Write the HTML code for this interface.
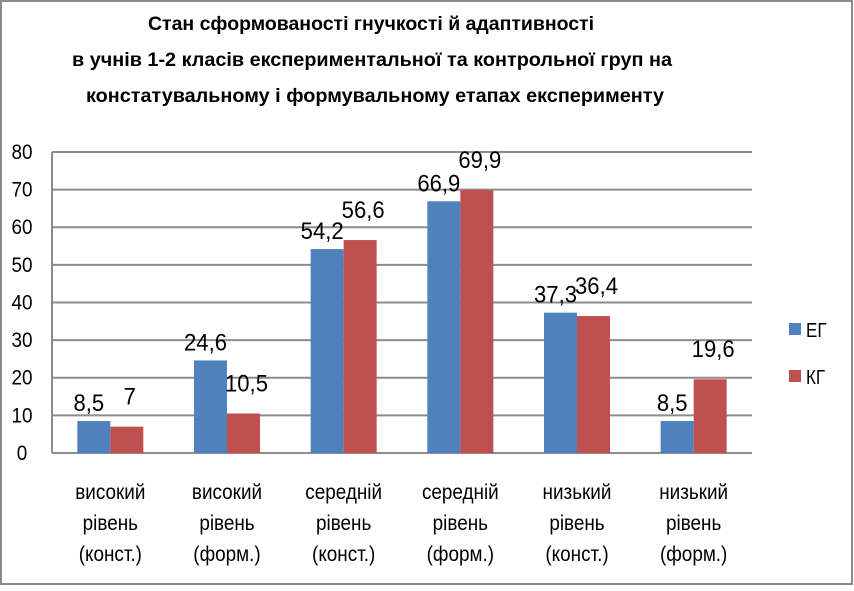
<!DOCTYPE html>
<html><head><meta charset="utf-8"><style>
body{margin:0;background:#fff;}
svg text{font-family:"Liberation Sans",sans-serif;}
</style></head><body>
<svg width="854" height="586" viewBox="0 0 854 586" xmlns="http://www.w3.org/2000/svg">
<rect x="1" y="1" width="851" height="583" fill="#fff" stroke="#8a8a8a" stroke-width="2"/>
<g font-weight="bold" font-size="19" text-anchor="middle" fill="#000">
<text x="371" y="30" textLength="446" lengthAdjust="spacingAndGlyphs">Стан  сформованості гнучкості й адаптивності</text>
<text x="372" y="66" textLength="600" lengthAdjust="spacingAndGlyphs">в учнів 1-2 класів експериментальної та контрольної груп на</text>
<text x="375" y="102" textLength="578" lengthAdjust="spacingAndGlyphs">констатувальному і формувальному етапах експерименту</text>
</g>
<g id="grid"></g>
<g id="yticks"></g>
<g id="bars"></g>
<g id="xlabels"></g>
<g>
<g><rect x="789" y="323" width="12" height="12" fill="#4f81bd"/><text x="806" y="337" font-size="20" transform="translate(806 337) scale(0.85 1) translate(-806 -337)">ЕГ</text></g>
<g><rect x="789" y="370" width="12" height="12" fill="#c0504d"/><text x="806" y="384" font-size="20" transform="translate(806 384) scale(0.85 1) translate(-806 -384)">КГ</text></g>
</g>
</svg>
<script>
const categories=[["високий","рівень","(конст.)"],["високий","рівень","(форм.)"],["середній","рівень","(конст.)"],["середній","рівень","(форм.)"],["низький","рівень","(конст.)"],["низький","рівень","(форм.)"]];
const egValues=[8.5,24.6,54.2,66.9,37.3,8.5];
const kgValues=[7,10.5,56.6,69.9,36.4,19.6];
const egLabels=["8,5","24,6","54,2","66,9","37,3","8,5"];
const kgLabels=["7","10,5","56,6","69,9","36,4","19,6"];
const yTicks=[0,10,20,30,40,50,60,70,80];
const NS="http://www.w3.org/2000/svg";
const X0=52,X1=752,Y0=453,Y80=152,yMax=80;
const y=v=>Y0-(v/yMax)*(Y0-Y80);
const gw=(X1-X0)/categories.length;
const gc=i=>X0+gw*(i+0.5);
const bw=33;
function mk(t,a,p,txt){const e=document.createElementNS(NS,t);for(const k in a)e.setAttribute(k,a[k]);if(txt!==undefined)e.textContent=txt;p.appendChild(e);return e;}
function sx(x,yy,s){return 'translate('+x+' '+yy+') scale('+s+' 1) translate('+(-x)+' '+(-yy)+')';}
const grid=document.getElementById('grid'),yt=document.getElementById('yticks'),bars=document.getElementById('bars'),xl=document.getElementById('xlabels');
yTicks.forEach(v=>{
 const l=mk('line',{x1:X0,x2:X1,y1:y(v),y2:y(v),stroke:'#8c8c8c','stroke-width':2},grid);
 
 
 const t=mk('text',{x:22,y:y(v)+7,'font-size':21,'text-anchor':'middle',transform:sx(22,y(v)+7,0.9)},yt,String(v));
 
 
});
const ax=mk('line',{x1:X0,x2:X0,y1:Y80,y2:Y0,stroke:'#8c8c8c','stroke-width':2},grid);


categories.forEach((c,i)=>{
 const cx=gc(i);
 [[egValues[i],egLabels[i],'#4f81bd',cx-bw,'eg',-10,-5],[kgValues[i],kgLabels[i],'#c0504d',cx,'kg',-22,3]].forEach(([v,lab,col,x,s,off,dx])=>{
  const r=mk('rect',{x:x,y:y(v),width:bw,height:Y0-y(v),fill:col},bars);
  
  
  const tx=x+bw/2+dx, ty=y(v)+off;
  const t=mk('text',{x:tx,y:ty,'font-size':24,'text-anchor':'middle',transform:sx(tx,ty,0.92)},bars,lab);
  
  
 });
 c.forEach((line,j)=>{
  const ty=499+j*31;
  const t=mk('text',{x:cx,y:ty,'font-size':21,'text-anchor':'middle',transform:sx(cx,ty,0.9)},xl,line);
  
  
 });
});
</script>
</body></html>
